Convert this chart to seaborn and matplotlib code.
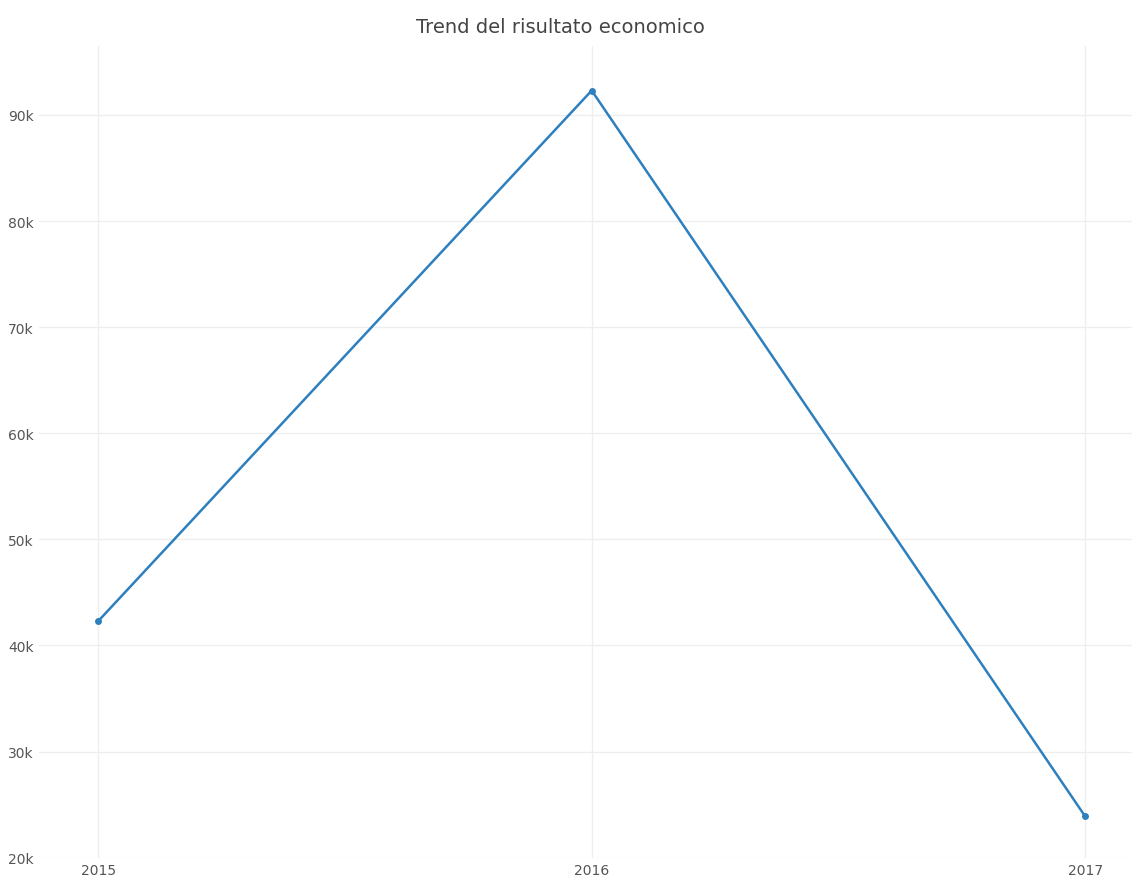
import matplotlib
matplotlib.use("Agg")
import matplotlib.pyplot as plt
import seaborn as sns
import pandas as pd
from matplotlib.ticker import FuncFormatter

years = [2015, 2016, 2017]
values = [42300, 92300, 23900]

sns.set_theme(style="whitegrid")
plt.rcParams['font.family'] = ['DejaVu Sans']

df = pd.DataFrame({"anno": years, "risultato": values})

fig = plt.figure(figsize=(11.32, 8.78), dpi=100)
ax = fig.add_axes([0.0345, 0.0220, 0.9655, 0.9245])

sns.lineplot(data=df, x="anno", y="risultato", ax=ax, color="#2e7fbd",
             linewidth=1.8, marker="o", markersize=5, markeredgewidth=0)

ax.set_xlim(2014.88, 2017.095)
ax.set_ylim(20000, 96500)
ax.set_xticks(years)
ax.set_xticklabels([str(y) for y in years])
ax.set_yticks([20000, 30000, 40000, 50000, 60000, 70000, 80000, 90000])
ax.yaxis.set_major_formatter(FuncFormatter(lambda v, p: f"{int(v/1000)}k"))
ax.set_xlabel("")
ax.set_ylabel("")
for s in ax.spines.values():
    s.set_visible(False)
ax.grid(True, color="#eeeeee", linewidth=0.9)
ax.tick_params(axis="both", colors="#555555", labelsize=10, length=0, pad=4)
ax.set_title("Trend del risultato economico", fontsize=14, color="#444444",
             pad=10, x=0.4767)

fig.savefig("out.png", dpi=100, facecolor="white")
